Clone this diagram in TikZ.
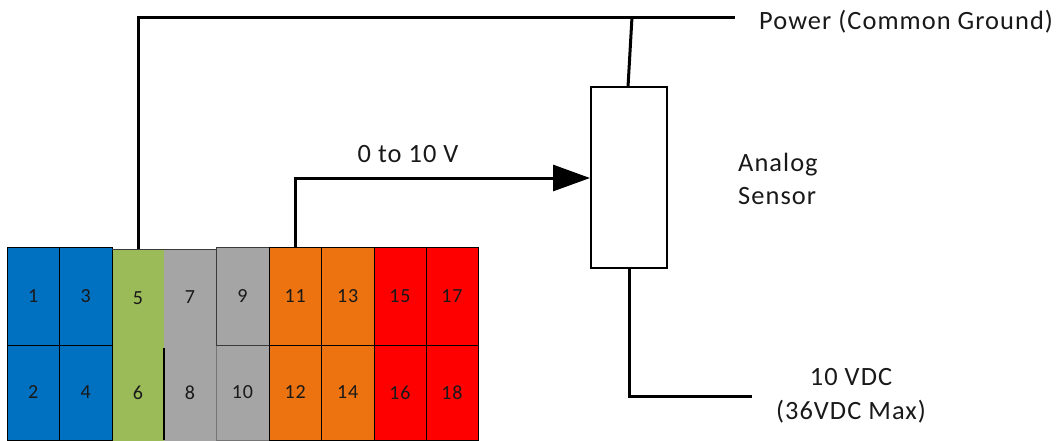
\documentclass[tikz,border=0pt]{standalone}
\usepackage{fontspec}
\setmainfont{Carlito}[LetterSpace=4]
\usetikzlibrary{arrows.meta}
\definecolor{cblue}{HTML}{0070C0}
\definecolor{cgreen}{HTML}{9BBB59}
\definecolor{cgray}{HTML}{A5A5A5}
\definecolor{corange}{HTML}{EC730F}
\definecolor{cred}{HTML}{FF0000}
\definecolor{edge}{HTML}{3A3A3A}
\tikzset{
  cellbox/.style={inner sep=0pt,outer sep=0pt,line width=0.9pt,font=\fontsize{20}{22}\selectfont,text=black!90},
  wire/.style={line width=3pt,black},
  caption/.style={inner sep=0pt,font=\fontsize{26.4}{33}\selectfont,align=center,text=black!90},
  tip/.style={-{Triangle[length=37pt,width=26pt]}}
}
% name, x1, y1, width, height, fill, border, label
\newcommand{\pincell}[8]{%
  \node[cellbox,draw=#7,fill=#6,minimum width=#4pt,minimum height=#5pt,anchor=north west] (#1) at (#2,#3) {#8};}
\begin{document}
\begin{tikzpicture}[x=1pt,y=-1pt]
\useasboundingbox (0,0) rectangle (1057,440);
\pincell{p5}{112}{249}{52}{99}{cgreen}{cgreen}{5}
\pincell{p6}{112}{345}{52}{95}{cgreen}{cgreen}{6}
\pincell{p7}{164}{249}{52}{96}{cgray}{cgray}{7}
\pincell{p8}{164}{345}{52}{95}{cgray}{cgray}{8}
\pincell{p10}{216}{345}{53}{95}{cgray}{edge!70}{10}
\pincell{p9}{216}{247}{53}{98}{cgray}{edge}{9}
\pincell{p1}{7}{247}{52.5}{98}{cblue}{black}{1}
\pincell{p2}{7}{345}{52.5}{95}{cblue}{black}{2}
\pincell{p3}{59.5}{247}{52.5}{98}{cblue}{black}{3}
\pincell{p4}{59.5}{345}{52.5}{95}{cblue}{black}{4}
\pincell{p11}{269}{247}{52.5}{98}{corange}{black}{11}
\pincell{p12}{269}{345}{52.5}{95}{corange}{black}{12}
\pincell{p13}{321.5}{247}{52.5}{98}{corange}{black}{13}
\pincell{p14}{321.5}{345}{52.5}{95}{corange}{black}{14}
\pincell{p15}{374}{247}{52}{98}{cred}{black}{15}
\pincell{p16}{374}{345}{52}{95}{cred}{black}{16}
\pincell{p17}{426}{247}{52}{98}{cred}{black}{17}
\pincell{p18}{426}{345}{52}{95}{cred}{black}{18}
\draw[edge,line width=1pt] (p5.north west) -- (p7.north east);
\draw[black,line width=1.2pt] (p8.north west) ++(0,3) -- (p8.south west);
\node[draw=black,line width=2.4pt,fill=white,minimum width=76pt,minimum height=181pt,inner sep=0pt,outer sep=0pt,anchor=north west] (sensor) at (591,87) {};
\node[caption,anchor=west] (power) at (759,22) {Power (Common Ground)};
\node[caption,anchor=west,align=left] (analog) at (738,179) {Analog\\Sensor};
\node[caption] (vdc) at (851,396) {10 VDC\\[1pt](36VDC Max)};
\node[caption] (range) at (408,154) {0 to 10 V};
\coordinate (powerend) at (735,17);
\coordinate (vdcend) at (752,396);
\coordinate (tap) at (632,17);
\coordinate (sensortop) at (628,87);
\coordinate (sensorbottom) at (629,268);
\coordinate (sigin) at (590,178);
\draw[wire,line join=miter] (p5.north) -- (p5.north |- powerend) -- (powerend);
\draw[wire] (tap) -- (sensortop);
\draw[wire,tip] (p11.north) -- (p11.north |- sigin) -- (sigin);
\draw[wire] (sensorbottom) -- (sensorbottom |- vdcend) -- (vdcend);
\end{tikzpicture}
\end{document}
